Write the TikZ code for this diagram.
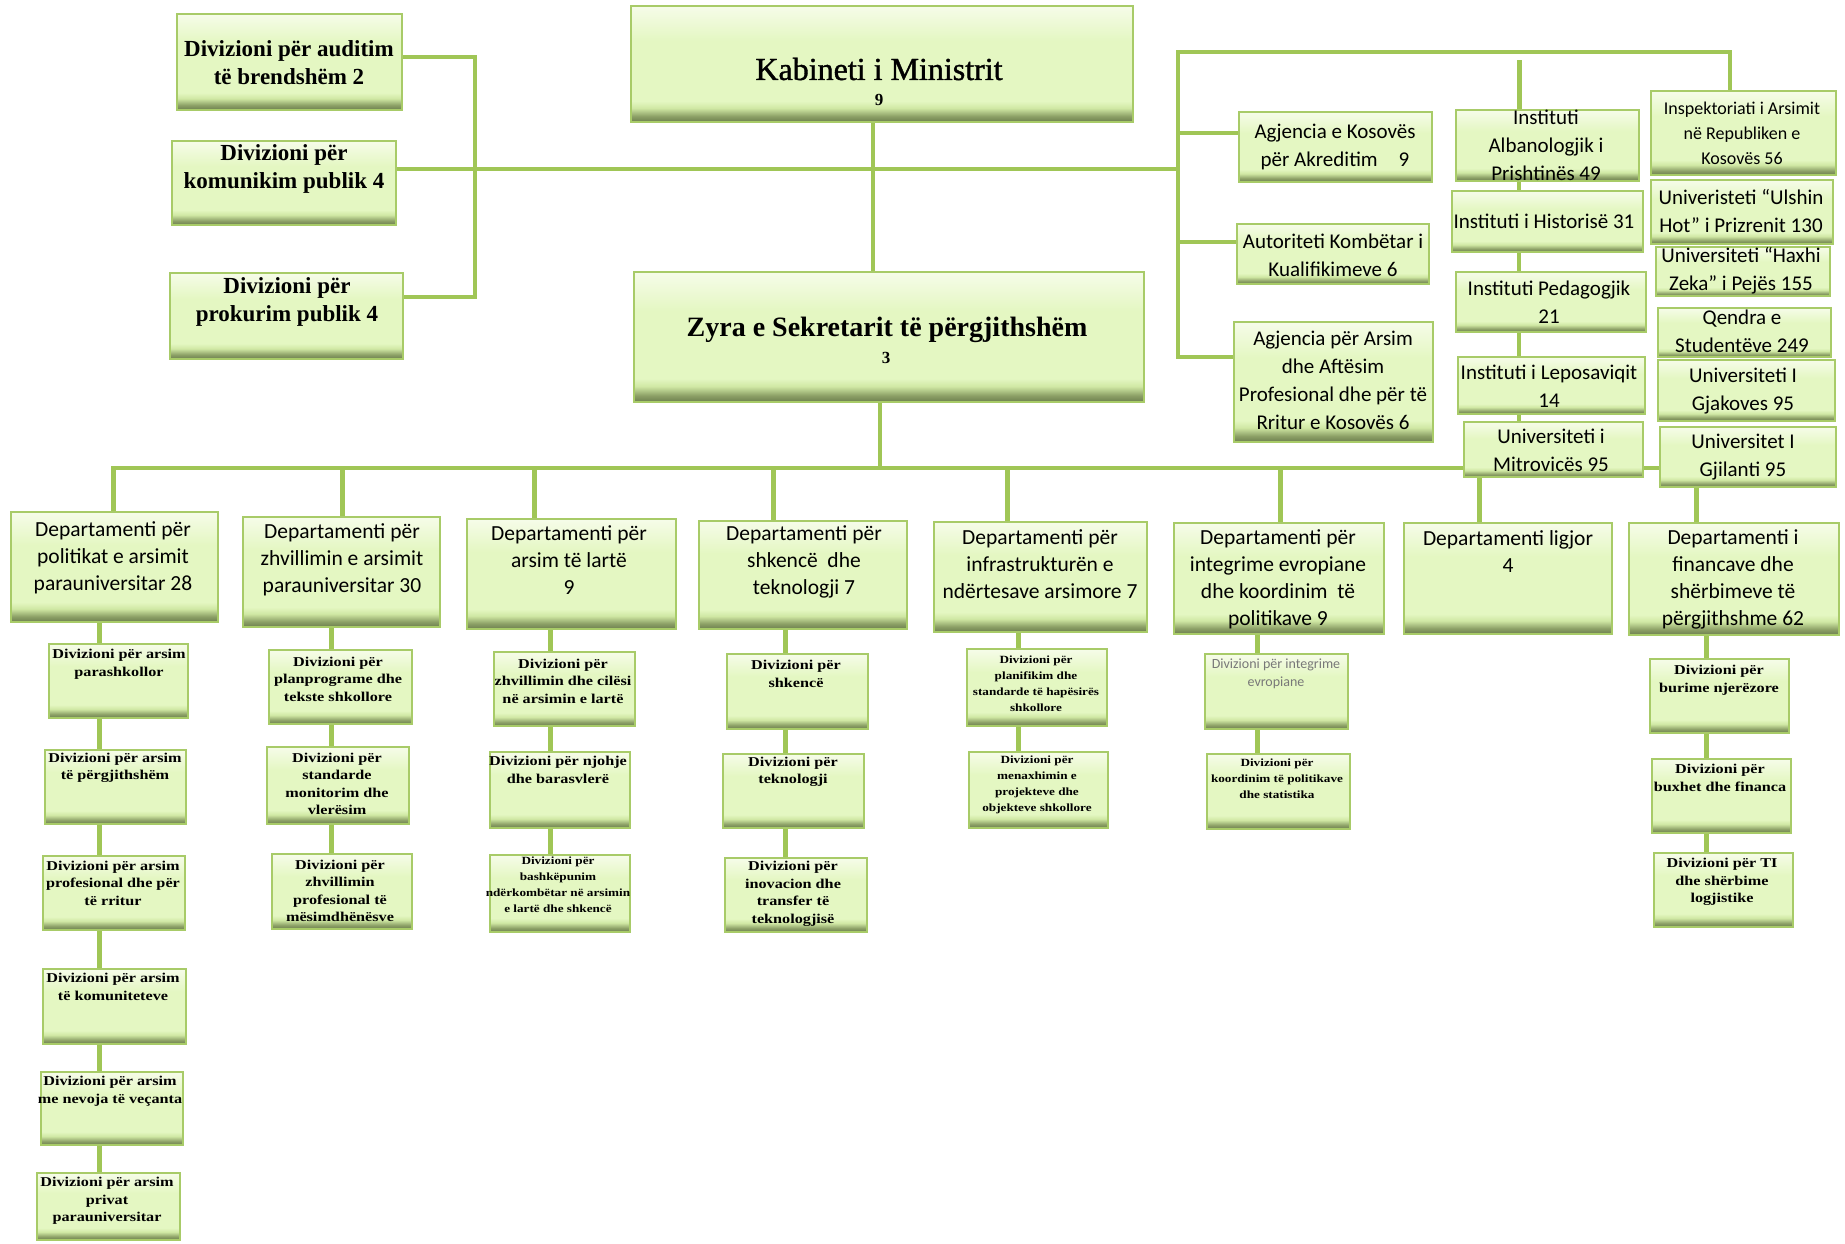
\documentclass[tikz,border=0pt]{standalone}
\usepackage{fontspec}
\setmainfont{Liberation Serif}
\newfontfamily\carl{Carlito}
\newfontfamily\sbf{Liberation Serif}[FakeStretch=1.2]
\newfontfamily\kabf{Liberation Serif}[FakeBold=1.2]
\usetikzlibrary{fit}
\definecolor{bordc}{RGB}{168,203,104}
\definecolor{linec}{RGB}{160,198,86}
\definecolor{shdark}{RGB}{108,126,78}
\definecolor{shdarkb}{RGB}{140,160,102}
\definecolor{shlow}{RGB}{208,232,164}
\definecolor{shmid}{RGB}{228,247,194}
\definecolor{shtop}{RGB}{246,252,233}
\definecolor{grayt}{RGB}{120,120,120}
\pgfdeclareverticalshading{boxshade}{100bp}{color(0bp)=(shdark); color(25bp)=(shdark); color(27.5bp)=(shdarkb); color(31bp)=(shlow); color(34bp)=(shmid); color(60bp)=(shmid); color(75bp)=(shtop); color(100bp)=(shtop)}
\pgfdeclarelayer{bg}
\pgfsetlayers{bg,main}
\tikzset{
  ogbox/.style={draw=bordc, line width=2.5pt, shading=boxshade, inner sep=0pt, outer sep=0pt, rectangle},
  lnmain/.style={draw=linec, line width=4.5pt, line cap=rect},
  lnsub/.style={draw=linec, line width=5pt},
  tTop/.style={font=\bfseries\fontsize{23}{28}\selectfont, align=center, inner sep=0pt},
  tKab/.style={font=\kabf\fontsize{32}{36}\selectfont, inner sep=0pt},
  tNum/.style={font=\bfseries\fontsize{17}{20}\selectfont, inner sep=0pt},
  tZyr/.style={font=\bfseries\fontsize{28}{34}\selectfont, inner sep=0pt},
  tRight/.style={font=\carl\fontsize{21}{28}\selectfont, align=center, inner sep=0pt},
  tInsp/.style={font=\carl\fontsize{18}{25}\selectfont, align=center, inner sep=0pt},
  tDep/.style={font=\carl\fontsize{21.5}{27}\selectfont, align=center, inner sep=0pt},
  tSub/.style={font=\sbf\bfseries\fontsize{13.5}{17.5}\selectfont, align=center, inner sep=0pt},
  tSubS/.style={font=\sbf\bfseries\fontsize{11}{16}\selectfont, align=center, inner sep=0pt},
  tGray/.style={font=\carl\fontsize{14}{18}\selectfont, text=grayt, align=center, inner sep=0pt},
}
\newcommand\mkbox[5]{\node[ogbox, fit={(#2,#3) (#4,#5)}] (#1) {};}
\begin{document}
\begin{tikzpicture}[x=1pt,y=-1pt]
\useasboundingbox (0,0) rectangle (1845,1243);
% ---------- top left divisions
\mkbox{A1}{177}{14}{402}{110}
\mkbox{A2}{172}{141}{396}{225}
\mkbox{A3}{170}{273}{403}{359}
\node[tTop] (tA1) at (289,63) {Divizioni për auditim\\të brendshëm 2};
\node[tTop] (tA2) at (284,169) {Divizioni për\\komunikim publik 4};
\node[tTop] (tA3) at (287,302) {Divizioni për\\prokurim publik 4};
% ---------- centre
\mkbox{K}{631}{6}{1133}{122}
\node[tKab] (tK) at (879,69) {Kabineti i Ministrit};
\node[tNum] (nK) at (879,100) {9};
\mkbox{Z}{634}{272}{1144}{402}
\node[tZyr] (tZ) at (887,330) {Zyra e Sekretarit të përgjithshëm};
\node[tNum] (nZ) at (886,358) {3};
% ---------- agencies
\mkbox{AK}{1239}{112}{1432}{182}
\node[tRight] (tAK) at (1335,147) {Agjencia e Kosovës\\për Akreditim\quad 9};
\mkbox{AKK}{1237}{224}{1429}{284}
\node[tRight] (tAKK) at (1333,255) {Autoriteti Kombëtar i\\Kualifikimeve 6};
\mkbox{AAP}{1234}{322}{1433}{442}
\node[tRight] (tAAP) at (1333,380) {Agjencia për Arsim\\dhe Aftësim\\Profesional dhe për të\\Rritur e Kosovës 6};
% ---------- institutes
\mkbox{IA}{1456}{110}{1639}{181}
\node[tRight] (tIA) at (1546,145) {Instituti\\Albanologjik i\\Prishtinës 49};
\mkbox{IH}{1452}{191}{1643}{252}
\node[tRight] (tIH) at (1544,221) {Instituti i Historisë 31};
\mkbox{IP}{1456}{272}{1646}{332}
\node[tRight] (tIP) at (1549,302) {Instituti Pedagogjik\\21};
\mkbox{IL}{1458}{357}{1645}{414}
\node[tRight] (tIL) at (1549,386) {Instituti i Leposaviqit\\14};
\mkbox{UM}{1464}{422}{1643}{477}
\node[tRight] (tUM) at (1551,450) {Universiteti i\\Mitrovicës 95};
% ---------- right column
\mkbox{Insp}{1651}{91}{1836}{175}
\node[tInsp] (tInsp) at (1742,133) {Inspektoriati i Arsimit\\në Republiken e\\Kosovës 56};
\mkbox{UU}{1651}{180}{1833}{244}
\node[tRight] (tUU) at (1741,211) {Univeristeti “Ulshin\\Hot” i Prizrenit 130};
\mkbox{UH}{1656}{247}{1830}{296}
\node[tRight] (tUH) at (1741,271) {Universiteti “Haxhi\\Zeka” i Pejës 155};
\mkbox{QS}{1658}{308}{1831}{357}
\node[tRight] (tQS) at (1742,331) {Qendra e\\Studentëve 249};
\mkbox{UGj}{1658}{360}{1835}{421}
\node[tRight] (tUGj) at (1743,391) {Universiteti I\\Gjakoves 95};
\mkbox{UGl}{1660}{427}{1836}{487}
\node[tRight] (tUGl) at (1743,457) {Universitet I\\Gjilanti 95};
% ---------- departments
\mkbox{D1}{11}{512}{218}{622}
\node[tDep] (tD1) at (113,558) {Departamenti për\\politikat e arsimit\\parauniversitar 28};
\mkbox{D2}{243}{517}{440}{627}
\node[tDep] (tD2) at (342,560) {Departamenti për\\zhvillimin e arsimit\\parauniversitar 30};
\mkbox{D3}{467}{519}{676}{629}
\node[tDep] (tD3) at (569,560) {Departamenti për\\arsim të lartë\\9};
\mkbox{D4}{699}{521}{907}{629}
\node[tDep] (tD4) at (804,562) {Departamenti për\\shkencë\ \ dhe\\teknologji 7};
\mkbox{D5}{934}{522}{1147}{632}
\node[tDep] (tD5) at (1040,564) {Departamenti për\\infrastrukturën e\\ndërtesave arsimore 7};
\mkbox{D6}{1174}{523}{1384}{634}
\node[tDep] (tD6) at (1278,579) {Departamenti për\\integrime evropiane\\dhe koordinim\ \ të\\politikave 9};
\mkbox{D7}{1404}{523}{1612}{634}
\node[tDep] (tD7) at (1508,552) {Departamenti ligjor\\4};
\mkbox{D8}{1629}{523}{1839}{635}
\node[tDep] (tD8) at (1733,579) {Departamenti i\\financave dhe\\shërbimeve të\\përgjithshme 62};
% ---------- column 1
\mkbox{s11}{49}{644}{188}{718}
\node[tSub] (ts11) at (119,664) {Divizioni për arsim\\parashkollor};
\mkbox{s12}{45}{750}{186}{824}
\node[tSub] (ts12) at (115,768) {Divizioni për arsim\\të përgjithshëm};
\mkbox{s13}{43}{856}{185}{930}
\node[tSub] (ts13) at (113,883) {Divizioni për arsim\\profesional dhe për\\të rritur};
\mkbox{s14}{43}{969}{186}{1044}
\node[tSub] (ts14) at (113,987) {Divizioni për arsim\\të komuniteteve};
\mkbox{s15}{41}{1072}{183}{1145}
\node[tSub] (ts15) at (110,1091) {Divizioni për arsim\\me nevoja të veçanta};
\mkbox{s16}{37}{1173}{180}{1240}
\node[tSub] (ts16) at (107,1201) {Divizioni për arsim\\privat\\parauniversitar};
% ---------- column 2
\mkbox{s21}{269}{650}{412}{724}
\node[tSub] (ts21) at (338,679) {Divizioni për\\planprograme dhe\\tekste shkollore};
\mkbox{s22}{267}{747}{409}{824}
\node[tSub] (ts22) at (337,784) {Divizioni për\\standarde\\monitorim dhe\\vlerësim};
\mkbox{s23}{272}{854}{412}{929}
\node[tSub] (ts23) at (340,891) {Divizioni për\\zhvillimin\\profesional të\\mësimdhënësve};
% ---------- column 3
\mkbox{s31}{494}{652}{635}{726}
\node[tSub] (ts31) at (563,681) {Divizioni për\\zhvillimin dhe cilësi\\në arsimin e lartë};
\mkbox{s32}{490}{752}{630}{828}
\node[tSub] (ts32) at (558,770) {Divizioni për njohje\\dhe barasvlerë};
\mkbox{s33}{490}{855}{630}{932}
\node[tSubS] (ts33) at (558,885) {Divizioni për\\bashkëpunim\\ndërkombëtar në arsimin\\e lartë dhe shkencë};
% ---------- column 4
\mkbox{s41}{727}{654}{868}{729}
\node[tSub] (ts41) at (796,674) {Divizioni për\\shkencë};
\mkbox{s42}{723}{754}{864}{828}
\node[tSub] (ts42) at (793,772) {Divizioni për\\teknologji};
\mkbox{s43}{725}{858}{867}{932}
\node[tSub] (ts43) at (793,894) {Divizioni për\\inovacion dhe\\transfer të\\teknologjisë};
% ---------- column 5
\mkbox{s51}{967}{649}{1107}{726}
\node[tSubS] (ts51) at (1036,684) {Divizioni për\\planifikim dhe\\standarde të hapësirës\\shkollore};
\mkbox{s52}{969}{752}{1108}{828}
\node[tSubS] (ts52) at (1037,785) {Divizioni për\\menaxhimin e\\projekteve dhe\\objekteve shkollore};
% ---------- column 6
\mkbox{s61}{1205}{654}{1348}{729}
\node[tGray] (ts61) at (1276,674) {Divizioni për integrime\\evropiane};
\mkbox{s62}{1207}{754}{1350}{829}
\node[tSubS] (ts62) at (1277,779) {Divizioni për\\koordinim të politikave\\dhe statistika};
% ---------- column 8
\mkbox{s81}{1650}{659}{1789}{733}
\node[tSub] (ts81) at (1719,680) {Divizioni për\\burime njerëzore};
\mkbox{s82}{1652}{759}{1791}{833}
\node[tSub] (ts82) at (1720,778) {Divizioni për\\buxhet dhe financa};
\mkbox{s83}{1654}{853}{1793}{927}
\node[tSub] (ts83) at (1722,882) {Divizioni për TI\\dhe shërbime\\logjistike};
% ---------- helper coordinates
\coordinate (bL1) at (475,57);
\coordinate (bL3) at (475,297);
\coordinate (hK) at (1178,169);
\coordinate (vK) at (873,0);
\coordinate (vZ) at (880,468);
\coordinate (busL) at (113,468);
\coordinate (busR) at (1660,468);
\coordinate (rTop) at (1178,52);
\coordinate (rBot) at (1178,357);
\coordinate (rTR) at (1730,52);
\coordinate (vI) at (1519,60);
\coordinate (y133) at (1178,133);
\coordinate (y242) at (1178,242);
\coordinate (d1x) at (113,468);
\coordinate (d2x) at (342,468);
\coordinate (d3x) at (534,468);
\coordinate (d4x) at (773,468);
\coordinate (d5x) at (1007,468);
\coordinate (d6x) at (1280,468);
\coordinate (d7x) at (1479,0);
\coordinate (d8x) at (1696,0);
\coordinate (c1) at (99,0);
\coordinate (c2) at (331,0);
\coordinate (c3) at (550,0);
\coordinate (c4) at (785,0);
\coordinate (c5) at (1018,0);
\coordinate (c6) at (1257,0);
\coordinate (c8) at (1706,0);
\begin{pgfonlayer}{bg}
\draw[lnmain] (A1.east |- bL1) -- (bL1) -- (bL3) -- (A3.east |- bL3);
\draw[lnmain] (A2.east |- hK) -- (hK);
\draw[lnmain] (K.south -| vK) -- (Z.north -| vK);
\draw[lnmain] (Z.south -| vZ) -- (vZ);
\draw[lnmain] (busL) -- (busR);
\draw[lnmain] (rBot) -- (rTop) -- (rTR) -- (Insp.north -| rTR);
\draw[lnmain] (y133) -- (AK.west |- y133);
\draw[lnmain] (y242) -- (AKK.west |- y242);
\draw[lnmain] (rBot) -- (AAP.west |- rBot);
\draw[lnsub] (vI) -- (IA.north -| vI);
\draw[lnmain] (IA.south -| vI) -- (IH.north -| vI);
\draw[lnmain] (IH.south -| vI) -- (IP.north -| vI);
\draw[lnmain] (IP.south -| vI) -- (IL.north -| vI);
\draw[lnmain] (IL.south -| vI) -- (UM.north -| vI);
\draw[lnsub] (d1x) -- (D1.north -| d1x);
\draw[lnsub] (d2x) -- (D2.north -| d2x);
\draw[lnsub] (d3x) -- (D3.north -| d3x);
\draw[lnsub] (d4x) -- (D4.north -| d4x);
\draw[lnsub] (d5x) -- (D5.north -| d5x);
\draw[lnsub] (d6x) -- (D6.north -| d6x);
\draw[lnsub] (UM.south -| d7x) -- (D7.north -| d7x);
\draw[lnsub] (UGl.south -| d8x) -- (D8.north -| d8x);
\draw[lnsub] (D1.south -| c1) -- (s11.north -| c1) (s11.south -| c1) -- (s12.north -| c1) (s12.south -| c1) -- (s13.north -| c1) (s13.south -| c1) -- (s14.north -| c1) (s14.south -| c1) -- (s15.north -| c1) (s15.south -| c1) -- (s16.north -| c1);
\draw[lnsub] (D2.south -| c2) -- (s21.north -| c2) (s21.south -| c2) -- (s22.north -| c2) (s22.south -| c2) -- (s23.north -| c2);
\draw[lnsub] (D3.south -| c3) -- (s31.north -| c3) (s31.south -| c3) -- (s32.north -| c3) (s32.south -| c3) -- (s33.north -| c3);
\draw[lnsub] (D4.south -| c4) -- (s41.north -| c4) (s41.south -| c4) -- (s42.north -| c4) (s42.south -| c4) -- (s43.north -| c4);
\draw[lnsub] (D5.south -| c5) -- (s51.north -| c5) (s51.south -| c5) -- (s52.north -| c5);
\draw[lnsub] (D6.south -| c6) -- (s61.north -| c6) (s61.south -| c6) -- (s62.north -| c6);
\draw[lnsub] (D8.south -| c8) -- (s81.north -| c8) (s81.south -| c8) -- (s82.north -| c8) (s82.south -| c8) -- (s83.north -| c8);
\end{pgfonlayer}
\end{tikzpicture}
\end{document}
